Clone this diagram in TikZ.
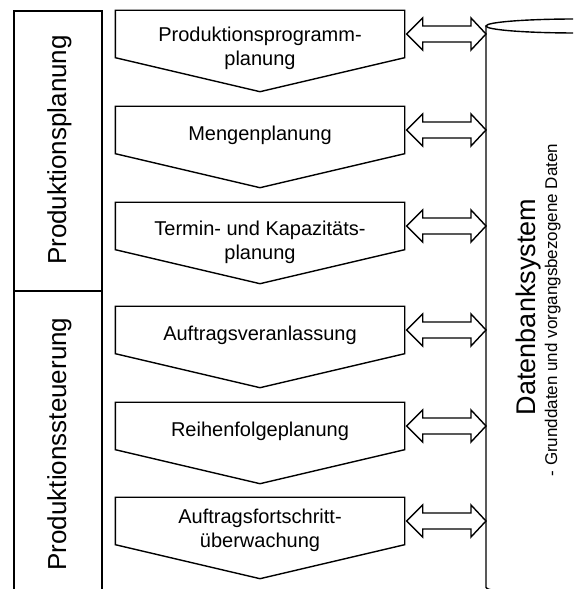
\documentclass[tikz,border=0pt]{standalone}
\usepackage{fontspec}
\setmainfont{Liberation Sans}
\usepackage{tikz}
\usetikzlibrary{calc,positioning}
\definecolor{lineink}{HTML}{000000}

\begin{document}
\begin{tikzpicture}[
    x=1pt, y=1pt,
    line width=1.4pt,
    stage/.style={minimum width=288pt, minimum height=46pt, inner sep=0pt},
    stagetext/.style={font=\fontsize{20}{24}\selectfont, align=center, inner sep=0pt},
    sidetext/.style={font=\fontsize{26}{30}\selectfont, rotate=90, anchor=base, inner sep=0pt},
    chevron/.style={draw=lineink, line join=miter},
    dbarrow/.style={draw=lineink, line join=miter},
  ]
  \useasboundingbox (0,0) rectangle (573,589);
  \clip (0,0) rectangle (573,589);

  % left phase panel
  \draw[lineink] (14,-10) -- (14,578) -- (102,578) -- (102,-10);
  \draw[lineink] (14,298) -- (102,298);
  \node[sidetext] (plan) at (66,439) {Produktionsplanung};
  \node[sidetext] (steu) at (66,145) {Produktionssteuerung};

  % database cylinder
  \draw[lineink] (576,563) ellipse (90 and 7);
  \draw[lineink] (486,563) -- (486,1.5) arc (180:360:90 and 7);
  \node[font=\fontsize{27}{30}\selectfont, rotate=90, anchor=base, inner sep=0pt]
    (dbname) at (535,282) {Datenbanksystem};
  \node[font=\fontsize{17}{20}\selectfont, rotate=90, anchor=base, inner sep=0pt]
    (dbdata) at (557,279) {- Grunddaten und vorgangsbezogene Daten};

  % stages and links to the database
  \foreach \i/\yc in {1/555, 2/459, 3/363, 4/259, 5/163, 6/68}{
    \node[stage] (box\i) at (260,\yc) {};
    \draw[chevron] (box\i.north west) -- (box\i.north east) -- (box\i.south east)
      -- ($(box\i.south)+(0,-34)$) -- (box\i.south west) -- cycle;
    \coordinate (db\i) at (486,\yc);
    \draw[dbarrow] ($(box\i.east)+(2,0)$) -- ++(16,16) -- ++(0,-8)
      -- ($(db\i)+(-15,8)$) -- ++(0,8) -- (db\i) -- ++(-15,-16) -- ++(0,8)
      -- ($(box\i.east)+(18,-8)$) -- ++(0,-8) -- cycle;
  }

  \node[stagetext] (lbl1) at ($(box1)+(0,-14)$) {Produktionsprogramm-\\planung};
  \node[stagetext] (lbl2) at ($(box2)+(0,-5)$) {Mengenplanung};
  \node[stagetext] (lbl3) at ($(box3)+(0,-16)$) {Termin- und Kapazitäts-\\planung};
  \node[stagetext] (lbl4) at ($(box4)+(0,-5)$) {Auftragsveranlassung};
  \node[stagetext] (lbl5) at ($(box5)+(0,-5)$) {Reihenfolgeplanung};
  \node[stagetext] (lbl6) at ($(box6)+(0,-9)$) {Auftragsfortschritt-\\überwachung};
\end{tikzpicture}
\end{document}
